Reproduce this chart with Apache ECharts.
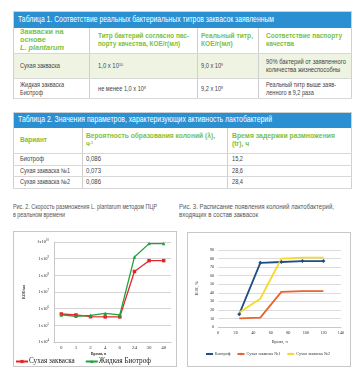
<!DOCTYPE html>
<html><head><meta charset="utf-8">
<script src="https://cdn.jsdelivr.net/npm/echarts@6/dist/echarts.min.js"></script>
<style>
html,body{margin:0;padding:0;background:#fff;width:361px;height:378px;overflow:hidden;}
body{font-family:"Liberation Sans",Arial,sans-serif;}
table{position:absolute;border-collapse:collapse;table-layout:fixed;}
td{padding:0 0 0 6px;vertical-align:middle;border-left:1px solid #cfcfcf;border-bottom:1px solid #d8d8d8;color:#444;font-size:6.4px;line-height:8px;overflow:visible;white-space:nowrap;}
td:first-child{border-left:none;}
.ttl td{background:#2a90d2;color:#fff;font-size:8.2px;padding-left:4px;border:none;}
.hdr td{color:#7cbf3e;font-weight:bold;font-size:7.2px;line-height:8px;}
.g td{background:#eef4e1;}
.tb{border:1px solid #d0d0d0;}
sup{font-size:4px;vertical-align:top;line-height:5px;}
.cap{position:absolute;font-size:6.4px;color:#555;line-height:8px;}
.box{position:absolute;border:1px solid #c8c8c8;box-sizing:border-box;}
.sx{display:inline-block;white-space:nowrap;transform-origin:0 50%;}
</style></head>
<body>
<table class="tb" style="left:13px;top:11px;width:338px;">
<colgroup><col style="width:76px"><col style="width:108px"><col style="width:61px"><col style="width:93px"></colgroup>
<tr class="ttl" style="height:16px"><td colspan="4"><span class="sx" data-w="256">Таблица 1. Соответствие реальных бактериальных титров заквасок заявленным</span></td></tr>
<tr class="hdr" style="height:26px"><td><span class="sx" data-w="44">Закваски на<br>основе<br><i>L. plantarum</i></span></td><td style="padding-left:8px"><span class="sx" data-w="91">Титр бактерий согласно пас-<br>порту качества, КОЕ/г(мл)</span></td><td style="padding-left:3px"><span class="sx" data-w="52">Реальный титр,<br>КОЕ/г(мл)</span></td><td style="padding-left:7px"><span class="sx" data-w="76">Соответствие паспорту<br>качества</span></td></tr>
<tr class="g" style="height:25px"><td><span class="sx" data-w="40">Сухая закваска</span></td><td style="padding-left:8px"><span class="sx" data-w="25">1,0 х 10<sup>10</sup></span></td><td style="padding-left:3px"><span class="sx" data-w="22">9,0 х 10<sup>9</sup></span></td><td style="padding-left:7px"><span class="sx" data-w="80">90% бактерий от заявленного<br>количества жизнеспособны</span></td></tr>
<tr style="height:20px"><td><span class="sx" data-w="44">Жидкая закваска<br>Биотроф</span></td><td style="padding-left:8px"><span class="sx" data-w="48">не менее 1,0 х 10<sup>8</sup></span></td><td style="padding-left:3px"><span class="sx" data-w="22">9,2 х 10<sup>8</sup></span></td><td style="padding-left:7px"><span class="sx" data-w="70">Реальный титр выше заяв-<br>ленного в 9,2 раза</span></td></tr>
</table>

<table class="tb" style="left:13px;top:112px;width:338px;">
<colgroup><col style="width:69px"><col style="width:145px"><col style="width:124px"></colgroup>
<tr class="ttl" style="height:15px"><td colspan="3"><span class="sx" data-w="254">Таблица 2. Значения параметров, характеризующих активность лактобактерий</span></td></tr>
<tr class="hdr" style="height:26px"><td><span class="sx" data-w="27">Вариант</span></td><td style="padding-left:3px"><span class="sx" data-w="129">Вероятность образования колоний (λ),<br>ч<sup>-1</sup></span></td><td style="padding-left:4px"><span class="sx" data-w="103">Время задержки размножения<br>(tr), ч</span></td></tr>
<tr style="height:11.5px"><td><span class="sx" data-w="24">Биотроф</span></td><td style="padding-left:3px"><span class="sx" data-w="15">0,086</span></td><td style="padding-left:4px"><span class="sx" data-w="11">15,2</span></td></tr>
<tr style="height:11.5px"><td><span class="sx" data-w="50">Сухая закваска №1</span></td><td style="padding-left:3px"><span class="sx" data-w="15">0,073</span></td><td style="padding-left:4px"><span class="sx" data-w="11">28,6</span></td></tr>
<tr style="height:11.5px"><td><span class="sx" data-w="50">Сухая закваска №2</span></td><td style="padding-left:3px"><span class="sx" data-w="15">0,086</span></td><td style="padding-left:4px"><span class="sx" data-w="11">28,4</span></td></tr>
</table>

<div class="cap" style="left:13px;top:203px;"><span class="sx" data-w="144">Рис. 2. Скорость размножения L. plantarum методом ПЦР<br>в реальном времени</span></div>
<div class="cap" style="left:179px;top:203px;"><span class="sx" data-w="155">Рис. 3. Расписание появления колоний лактобактерий,<br>входящих в состав заквасок</span></div>

<div class="box" style="left:13px;top:231px;width:164px;height:136px;"></div>
<div class="box" style="left:187px;top:232px;width:164px;height:135px;"></div>
<div id="c1" style="position:absolute;left:13px;top:231px;width:164px;height:136px;"></div>
<div id="c2" style="position:absolute;left:187px;top:232px;width:164px;height:135px;"></div>

<script>
document.querySelectorAll('[data-w]').forEach(el=>{
  const w = el.getBoundingClientRect().width;
  if (w > 0) el.style.transform = 'scaleX(' + (+el.dataset.w / w) + ')';
});

// Chart 1 data (Рис. 2)
const times1 = ['0','1','2','4','6','24','30','40'];
const dryStarter1 = [4.8e5, 4.2e5, 3.3e5, 3.2e5, 3.2e5, 1.7e8, 7.6e8, 7.6e8];
const liquidBiotrof1 = [4.2e5, 3.5e5, 4.0e5, 5.2e5, 4.2e5, 1.25e9, 8.0e9, 8.0e9];

// Chart 2 data (Рис. 3)
const hours2 = [24, 48, 72, 96, 120];
const biotrof2 = [15, 75, 76, 77, 77];
const dry1_2 = [10, 11, 41, 42, 42];
const dry2_2 = [17, 33, 80, 81, 81];

const serif = '"Liberation Serif","DejaVu Serif",serif';

const c1 = echarts.init(document.getElementById('c1'));
c1.setOption({
  animation:false,
  grid:{left:41,right:6,top:11,bottom:25},
  textStyle:{fontFamily:serif},
  legend:{left:2,top:127,padding:0,itemWidth:12,itemHeight:4,itemGap:10,
    textStyle:{fontFamily:serif,fontSize:7.2,color:'#222',padding:[0,0,0,-4]},
    data:['Сухая закваска','Жидкая Биотроф']},
  xAxis:{type:'category',data:times1,boundaryGap:true,
    axisLine:{lineStyle:{color:'#c8c8c8'}},axisTick:{show:false},
    axisLabel:{fontSize:5,color:'#333',margin:3,fontFamily:serif}},
  yAxis:{type:'log',logBase:10,min:1e4,max:1e10,
    name:'КОЕ/мл',nameLocation:'middle',nameGap:18,
    nameTextStyle:{fontSize:3.8,fontWeight:'bold',color:'#222',fontFamily:serif},
    axisLine:{show:true,lineStyle:{color:'#c8c8c8'}},axisTick:{show:false},
    splitLine:{lineStyle:{color:'#d4d4d4'}},
    axisLabel:{fontSize:4.5,color:'#333',margin:5,fontFamily:serif,
      formatter:v=>'1x10{s|'+Math.round(Math.log10(v))+'}',
      rich:{s:{fontSize:3,verticalAlign:'top',padding:[0,0,3,0],fontFamily:serif,color:'#333'}}}},
  graphic:[{type:'text',left:78,top:121,style:{text:'Время, ч',fontSize:3.8,fontWeight:'bold',fontFamily:serif,fill:'#222'}}],
  series:[
    {name:'Сухая закваска',type:'line',data:dryStarter1,symbol:'rect',symbolSize:3.5,
     lineStyle:{color:'#e3262a',width:1.3},itemStyle:{color:'#e3262a'}},
    {name:'Жидкая Биотроф',type:'line',data:liquidBiotrof1,symbol:'triangle',symbolSize:3.5,
     lineStyle:{color:'#1ea33c',width:1.3},itemStyle:{color:'#1ea33c'}}
  ]
});

const c2 = echarts.init(document.getElementById('c2'));
c2.setOption({
  animation:false,
  grid:{left:19,right:10,top:18,bottom:40},
  legend:{left:18,top:120,padding:0,itemWidth:7,itemHeight:3,itemGap:6,
    textStyle:{fontFamily:serif,fontSize:4.2,color:'#333',padding:[0,0,0,-3]},
    data:['Биотроф','Сухая закваска №1','Сухая закваска №2']},
  xAxis:{type:'value',min:0,max:140,interval:20,
    name:'Время, ч',nameLocation:'middle',nameGap:11,
    nameTextStyle:{fontSize:4.3,color:'#333',fontFamily:serif},
    axisLine:{lineStyle:{color:'#c8c8c8'}},axisTick:{show:false},splitLine:{show:false},
    axisLabel:{fontSize:4.3,color:'#333',margin:4,fontFamily:serif}},
  yAxis:{type:'value',min:0,max:90,interval:10,
    name:'КОЕ, %',nameLocation:'middle',nameGap:14,
    nameTextStyle:{fontSize:4.3,color:'#333',fontFamily:serif},
    axisLine:{show:false},axisTick:{show:false},
    splitLine:{lineStyle:{color:'#dcdcdc'}},
    axisLabel:{fontSize:4.3,color:'#333',margin:4,fontFamily:serif}},
  series:[
    {name:'Биотроф',type:'line',data:hours2.map((h,i)=>[h,biotrof2[i]]),symbol:'diamond',symbolSize:4,
     lineStyle:{color:'#1f4e84',width:1.8},itemStyle:{color:'#1f4e84'}},
    {name:'Сухая закваска №1',type:'line',data:hours2.map((h,i)=>[h,dry1_2[i]]),symbol:'none',
     lineStyle:{color:'#e8642c',width:1.8},itemStyle:{color:'#e8642c'}},
    {name:'Сухая закваска №2',type:'line',data:hours2.map((h,i)=>[h,dry2_2[i]]),symbol:'none',
     lineStyle:{color:'#f7d82c',width:1.8},itemStyle:{color:'#f7d82c'}}
  ]
});
</script>
</body></html>
